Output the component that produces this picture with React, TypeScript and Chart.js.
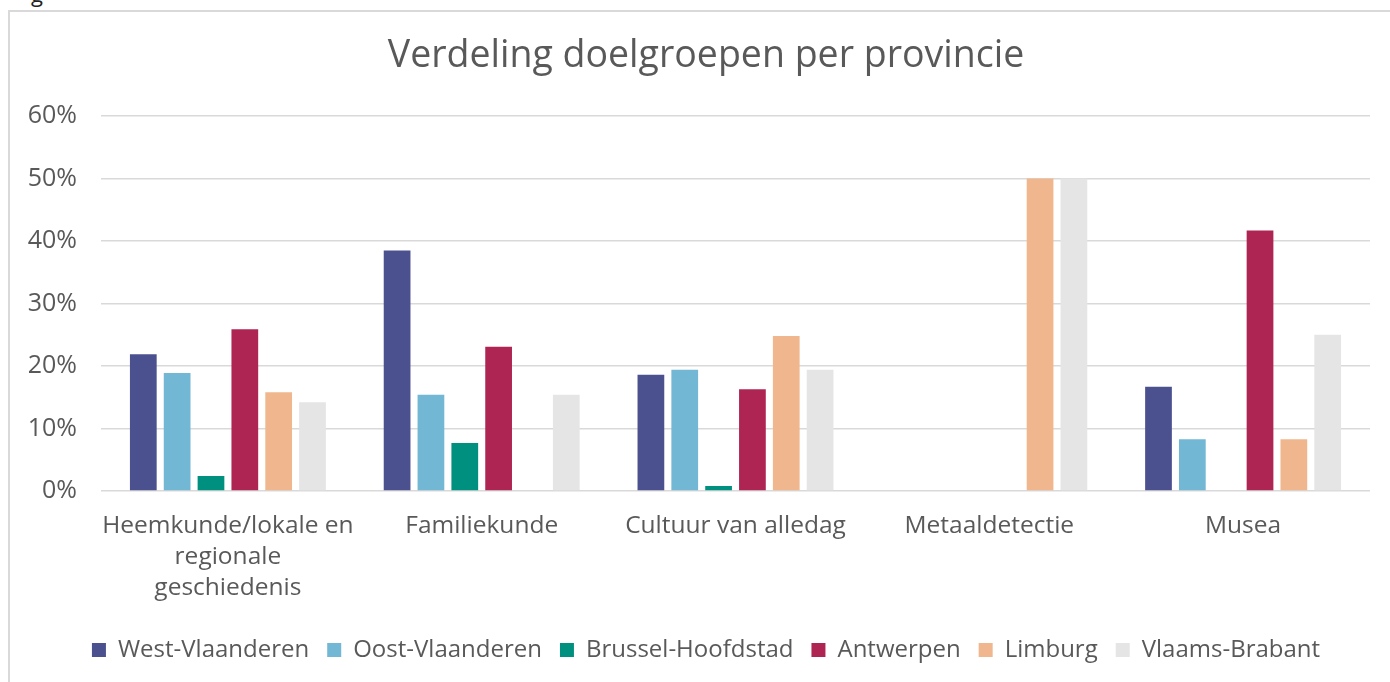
import React, { useEffect, useRef } from "react";
import { Chart, registerables } from "chart.js";

Chart.register(...registerables);

const categories: (string | string[])[] = [
  ["Heemkunde/lokale en", "regionale", "geschiedenis"],
  "Familiekunde",
  "Cultuur van alledag",
  "Metaaldetectie",
  "Musea",
];

const westVlaanderen = [21.9, 38.5, 18.6, 0, 16.7];
const oostVlaanderen = [18.9, 15.4, 19.4, 0, 8.3];
const brusselHoofdstad = [2.4, 7.7, 0.8, 0, 0];
const antwerpen = [25.9, 23.1, 16.3, 0, 41.7];
const limburg = [15.8, 0, 24.8, 50, 8.3];
const vlaamsBrabant = [14.2, 15.4, 19.4, 50, 25];

const seriesNames = [
  "West-Vlaanderen",
  "Oost-Vlaanderen",
  "Brussel-Hoofdstad",
  "Antwerpen",
  "Limburg",
  "Vlaams-Brabant",
];
const seriesColors = ["#4B508E", "#72B7D4", "#00907F", "#AE2554", "#F0B78E", "#E5E5E5"];

const yTicks = [0, 10, 20, 30, 40, 50, 60];

const FONT = "'Open Sans', sans-serif";
const TEXT = "#595959";
const W = 1412;
const H = 682;

export default function App() {
  const ref = useRef<HTMLCanvasElement>(null);

  useEffect(() => {
    if (!ref.current) return;
    const values = [westVlaanderen, oostVlaanderen, brusselHoofdstad, antwerpen, limburg, vlaamsBrabant];
    const chart = new Chart(ref.current, {
      type: "bar",
      data: {
        labels: categories,
        datasets: values.map((d, i) => ({
          label: seriesNames[i],
          data: d,
          backgroundColor: seriesColors[i],
          borderWidth: 0,
          categoryPercentage: 0.8,
          barPercentage: 0.79,
        })),
      },
      options: {
        responsive: false,
        animation: false,
        layout: { padding: { left: 0, right: 0, top: 0, bottom: 10 } },
        plugins: {
          title: {
            display: true,
            text: "Verdeling doelgroepen per provincie",
            color: TEXT,
            font: { family: FONT, size: 37.5, weight: "normal", lineHeight: 1.2 },
            padding: { top: 33.5, bottom: 37.5 },
          },
          legend: {
            position: "bottom",
            labels: {
              color: TEXT,
              font: { family: FONT, size: 24 },
              boxWidth: 14,
              boxHeight: 14,
              padding: 18,
            },
          },
          tooltip: { enabled: false },
        },
        scales: {
          x: {
            grid: { display: false },
            border: { display: false },
            ticks: {
              color: TEXT,
              font: { family: FONT, size: 24.5, lineHeight: 31 / 24.5 },
              padding: 12,
              maxRotation: 0,
              autoSkip: false,
            },
            afterFit: (s: any) => {
              s.height = 129;
            },
          },
          y: {
            min: 0,
            max: 60,
            afterBuildTicks: (s: any) => {
              s.ticks = yTicks.map((v) => ({ value: v }));
            },
            grid: { color: "#D9D9D9", lineWidth: 1.5, drawTicks: false },
            border: { display: false },
            ticks: {
              color: TEXT,
              font: { family: FONT, size: 25 },
              padding: 24,
              callback: (v: any) => `${v}%`,
            },
            afterFit: (s: any) => {
              s.width = 101;
            },
          },
          yRight: {
            type: "linear",
            position: "right",
            display: true,
            min: 0,
            max: 60,
            grid: { display: false, drawOnChartArea: false },
            border: { display: false },
            ticks: { display: false },
            afterFit: (s: any) => {
              s.width = W - 1370;
            },
          },
        },
      },
    });
    return () => chart.destroy();
  }, []);

  return (
    <div style={{ position: "fixed", left: 0, top: 0, width: 1390, height: 682, overflow: "hidden", background: "#fff" }}>
      <div
        style={{
          position: "absolute",
          left: 31,
          top: -22,
          fontFamily: FONT,
          fontSize: 22,
          color: "#222",
        }}
      >
        g
      </div>
      <div
        style={{
          position: "absolute",
          left: 8,
          top: 10,
          width: 1420,
          height: 720,
          border: "2px solid #D9D9D9",
          boxSizing: "border-box",
        }}
      />
      <canvas ref={ref} width={W} height={H} style={{ position: "absolute", left: 0, top: 0 }} />
    </div>
  );
}
